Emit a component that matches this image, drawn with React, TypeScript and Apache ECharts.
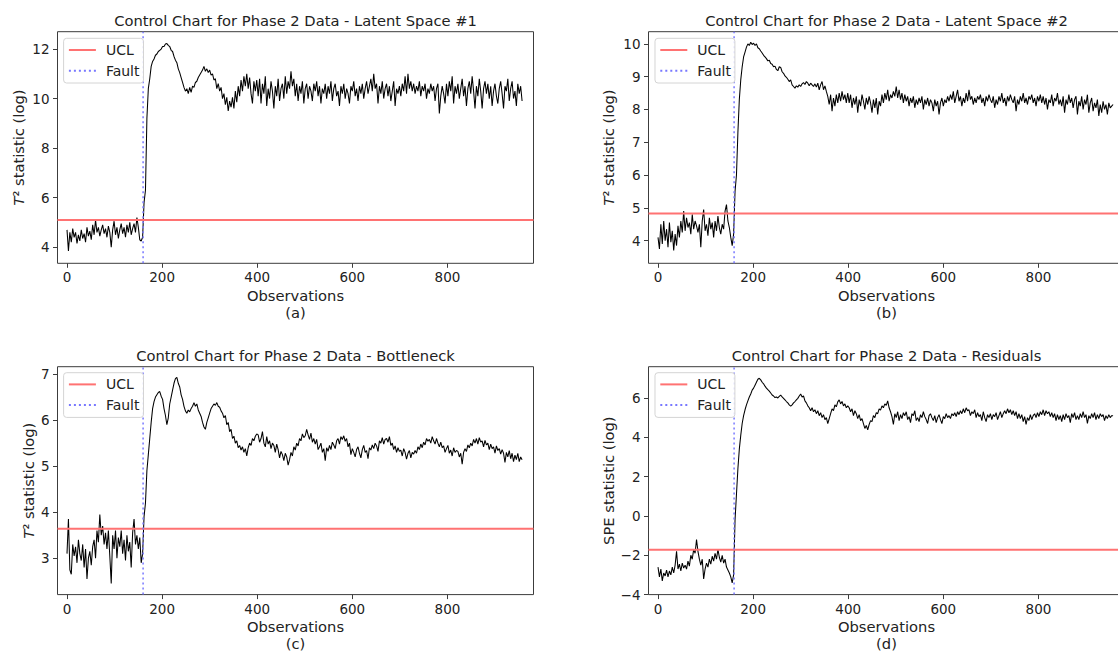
import React, { useEffect, useRef } from "react";
import * as echarts from "echarts";

const OBS_STEP = 3;
const FAULT_OBS = 160;
const X_MIN = -20;
const X_MAX = 981;
const X_TICKS = [0, 200, 400, 600, 800];

const latentSpace1 = [
  4.7, 3.85, 4.6, 4.2, 4.75, 4.4, 4.6, 4.15, 4.5, 4.25,
  4.7, 4.35, 4.55, 4.2, 4.8, 4.45, 4.65, 4.3, 4.9, 4.5,
  5.1, 4.6, 4.8, 4.45, 4.7, 4.9, 4.55, 4.75, 4.4, 4.85,
  4.6, 4.0, 4.7, 5.05, 4.5, 4.8, 4.35, 4.7, 4.95, 4.55,
  4.8, 4.4, 4.9, 4.6, 5.0, 4.5, 4.75, 4.95, 4.6, 5.2,
  4.8, 4.3, 4.25, 4.4,
  5.8, 6.3, 9.2, 10.4, 10.8, 11.3, 11.5, 11.6, 11.75, 11.8,
  11.9, 11.95, 12.0, 12.1, 12.1, 12.2, 12.22, 12.15, 12.1, 11.95,
  11.9, 11.7, 11.55, 11.45, 11.2, 11.05, 10.85, 10.65, 10.45, 10.3,
  10.4, 10.2, 10.45, 10.25, 10.5, 10.45, 10.65, 10.7, 10.85, 10.95,
  11.05, 11.15, 11.3, 11.1, 11.2, 11.05, 11.15, 10.95, 11.0, 10.75,
  10.8, 10.4, 10.6, 10.3, 10.45, 10.0, 10.2, 9.75, 10.05, 9.5,
  9.9, 9.65, 10.05, 9.6, 10.3, 9.85, 10.5, 10.1, 10.75, 10.3,
  10.9, 10.5, 11.0, 10.4, 10.85, 10.2, 9.8, 10.7, 10.3, 10.75,
  10.1, 10.8, 9.8, 10.6, 10.2, 10.9, 9.7, 10.4, 10.0, 10.7,
  10.3, 9.6, 10.5, 10.1, 10.8, 9.9, 10.4, 10.6, 10.0, 10.9,
  10.2, 10.7, 10.4, 11.1, 10.5, 10.8, 10.1, 10.6, 9.9, 10.5,
  10.2, 10.7, 9.8, 10.4, 10.6, 10.0, 10.5, 10.3, 9.9, 10.6,
  10.3, 10.7, 10.1, 10.5, 9.8, 10.4, 10.2, 10.6, 10.0, 10.5,
  10.2, 10.7, 9.9, 10.4, 10.6, 10.1, 10.3, 9.7, 10.5, 10.2,
  10.6, 10.0, 10.4, 10.2, 9.8, 10.5, 10.3, 10.7, 10.1, 10.4,
  9.9, 10.5, 10.2, 10.6, 10.0, 10.4, 10.7, 10.2, 10.5, 10.8,
  10.3, 11.0, 10.4, 10.6, 9.8, 10.5, 10.2, 10.7, 10.0, 10.4,
  10.6, 10.1, 10.5, 9.9, 10.3, 10.7, 9.7, 10.4, 10.2, 10.5,
  10.1, 10.6, 10.3, 10.9, 10.2, 11.0, 10.4, 10.7, 10.3, 10.6,
  10.2, 10.5, 10.3, 10.7, 10.1, 10.5, 10.3, 10.6, 10.0, 10.4,
  10.2, 10.6, 10.3, 10.5, 9.9, 10.4, 10.6, 9.4, 10.1, 10.5,
  10.2, 9.8, 10.6, 10.1, 10.7, 10.3, 10.9, 9.8, 10.5, 10.2,
  10.6, 10.0, 10.4, 10.8, 10.1, 10.5, 9.7, 10.4, 10.7, 10.2,
  10.9, 10.3, 9.6, 10.5, 10.1, 10.8, 10.3, 9.6, 10.4, 10.7,
  10.2, 10.6, 10.0, 10.5, 9.7, 10.3, 10.6, 10.1, 9.8, 10.4,
  10.7, 10.2, 9.6, 10.5, 10.3, 10.8, 9.9, 10.4, 10.7, 10.0,
  10.3, 9.7, 10.6, 10.2, 10.5, 9.9,
];

const latentSpace2 = [
  4.1, 3.75, 4.5, 3.9, 4.6, 4.0, 4.35, 3.8, 4.55, 3.95,
  4.3, 3.7, 4.2, 3.85, 4.45, 4.1, 4.6, 4.25, 4.9, 4.3,
  4.7, 4.4, 4.55, 4.2, 4.8, 4.35, 4.6, 4.45, 4.25, 4.5,
  3.8, 4.6, 4.95, 4.3, 4.5, 4.15, 4.7, 4.35, 4.55, 4.1,
  4.6, 4.3, 4.75, 4.4, 4.2, 4.5, 4.35, 4.9, 5.1, 4.6,
  4.4, 4.1, 3.85, 4.2,
  5.5, 6.0, 7.3, 8.3, 8.9, 9.3, 9.6, 9.75, 9.9, 10.0,
  9.95, 10.05, 9.98, 10.02, 9.95, 10.0, 9.88, 9.85, 9.78, 9.72,
  9.65, 9.6, 9.55, 9.48, 9.5, 9.4, 9.38, 9.3, 9.32, 9.22,
  9.18, 9.3, 9.28, 9.15, 9.1, 9.02, 8.98, 8.92, 8.85, 8.9,
  8.75, 8.7, 8.65, 8.72, 8.68, 8.75, 8.7, 8.78, 8.82, 8.76,
  8.85, 8.8, 8.72, 8.8, 8.75, 8.7, 8.78, 8.68, 8.8, 8.6,
  8.75, 8.85, 8.6, 8.72, 8.55, 8.4, 8.15, 8.45, 7.95, 8.35,
  8.1, 8.45, 8.2, 8.5, 8.25, 8.55, 8.3, 8.45, 8.2, 8.5,
  8.2, 8.45, 8.05, 8.35, 8.15, 8.4, 7.9, 8.3, 8.1, 8.45,
  8.25, 8.0, 8.35, 8.15, 8.4, 8.2, 7.9, 8.3, 8.05, 8.35,
  7.85, 8.25, 8.1, 8.45, 8.2, 8.5, 8.3, 8.6, 8.25, 8.45,
  8.35, 8.55, 8.4, 8.7, 8.35, 8.6, 8.3, 8.5, 8.2, 8.45,
  8.25, 8.4, 8.1, 8.35, 8.2, 8.4, 8.05, 8.3, 8.15, 8.35,
  8.2, 8.4, 8.0, 8.3, 8.15, 8.35, 8.1, 8.3, 8.2, 7.95,
  8.3, 8.1, 8.25, 7.85, 8.2, 8.35, 8.1, 8.3, 8.2, 8.4,
  8.25, 8.45, 8.3, 8.55, 8.2, 8.4, 8.6, 8.25, 8.4, 8.1,
  8.35, 8.2, 8.5, 8.25, 8.6, 8.3, 8.4, 8.15, 8.35, 8.2,
  8.4, 8.3, 8.45, 8.2, 8.35, 8.1, 8.4, 8.25, 8.45, 8.3,
  8.2, 8.4, 8.05, 8.3, 8.15, 8.4, 8.25, 8.5, 8.2, 8.35,
  8.1, 8.4, 8.25, 8.45, 8.3, 8.2, 8.4, 7.95, 8.3, 8.15,
  8.4, 8.25, 8.5, 8.2, 8.35, 8.15, 8.4, 8.3, 8.45, 8.2,
  8.35, 8.1, 8.4, 8.25, 8.45, 8.2, 8.4, 8.15, 8.35, 8.0,
  8.3, 8.2, 8.45, 8.1, 8.35, 8.25, 8.5, 8.15, 8.3, 8.1,
  8.4, 7.9, 8.3, 8.15, 8.45, 8.2, 8.35, 8.05, 8.3, 8.4,
  7.85, 8.25, 8.1, 8.4, 8.0, 8.3, 8.15, 8.45, 7.9, 8.2,
  8.35, 7.95, 8.2, 8.05, 8.3, 7.8, 8.15, 7.9, 8.25, 8.0,
  8.15, 7.85, 8.2, 8.05, 8.1, 8.15,
];

const bottleneck = [
  3.1, 3.85, 2.75, 2.65, 3.3, 3.05, 3.25, 2.9, 3.4, 3.1,
  2.95, 3.3, 2.8, 3.2, 2.55, 3.0, 3.15, 2.85, 3.25, 3.4,
  3.0, 3.6, 3.35, 3.95, 3.5, 3.7, 3.3, 3.55, 3.2, 3.6,
  3.05, 2.45, 3.5, 3.2, 3.6, 3.0, 3.45, 3.25, 3.6, 3.1,
  3.4, 2.95, 3.5, 3.15, 3.35, 2.8, 3.55, 3.85, 3.3, 3.5,
  3.2, 3.45, 2.9, 3.1,
  3.9, 4.2, 4.9, 5.25, 5.6, 5.95, 6.25, 6.4, 6.5, 6.55,
  6.6, 6.62, 6.52, 6.45, 6.25, 6.1, 5.9, 6.05, 6.35, 6.5,
  6.65, 6.8, 6.9, 6.93, 6.8, 6.72, 6.55, 6.45, 6.3, 6.2,
  6.15, 6.22, 6.18, 6.25, 6.3, 6.38, 6.3, 6.35, 6.22, 6.15,
  6.08, 5.95, 5.85, 5.8, 5.95, 6.05, 6.15, 6.25, 6.3, 6.35,
  6.32, 6.38, 6.3, 6.28, 6.2, 6.15, 6.05, 6.1, 5.9, 5.95,
  5.75, 5.8, 5.6, 5.65, 5.5, 5.55, 5.4, 5.45, 5.35, 5.42,
  5.3, 5.38, 5.22, 5.4, 5.5, 5.45, 5.6, 5.55, 5.65, 5.7,
  5.68, 5.52, 5.6, 5.75, 5.5, 5.42, 5.64, 5.48, 5.55, 5.38,
  5.5, 5.45, 5.3, 5.48, 5.36, 5.18, 5.32, 5.25, 5.12, 5.28,
  5.2, 5.02, 5.14, 5.3, 5.22, 5.42, 5.35, 5.5, 5.44, 5.6,
  5.55, 5.7, 5.62, 5.66, 5.8, 5.68, 5.58, 5.72, 5.52, 5.6,
  5.48, 5.58, 5.36, 5.42, 5.5, 5.3, 5.38, 5.12, 5.4, 5.32,
  5.45, 5.36, 5.52, 5.46, 5.38, 5.55, 5.6, 5.48, 5.64, 5.58,
  5.66, 5.54, 5.6, 5.42, 5.5, 5.25, 5.38, 5.3, 5.2, 5.36,
  5.42, 5.28, 5.18, 5.36, 5.45, 5.3, 5.34, 5.16, 5.4, 5.35,
  5.46, 5.38, 5.5, 5.44, 5.32, 5.55, 5.5, 5.62, 5.48, 5.58,
  5.6, 5.52, 5.64, 5.45, 5.5, 5.36, 5.44, 5.3, 5.4, 5.32,
  5.35, 5.22, 5.38, 5.3, 5.15, 5.28, 5.34, 5.18, 5.3, 5.26,
  5.34, 5.28, 5.42, 5.36, 5.48, 5.4, 5.52, 5.46, 5.6, 5.54,
  5.58, 5.5, 5.64, 5.55, 5.48, 5.6, 5.5, 5.42, 5.52, 5.4,
  5.44, 5.3, 5.38, 5.45, 5.28, 5.35, 5.22, 5.4, 5.3, 5.34,
  5.32, 5.2, 5.28, 5.04, 5.3, 5.38, 5.32, 5.46, 5.4, 5.5,
  5.44, 5.58, 5.5, 5.6, 5.48, 5.62, 5.52, 5.55, 5.42, 5.56,
  5.46, 5.5, 5.36, 5.48, 5.38, 5.42, 5.28, 5.44, 5.34, 5.38,
  5.26, 5.36, 5.28, 5.08, 5.3, 5.2, 5.34, 5.16, 5.28, 5.1,
  5.24, 5.14, 5.28, 5.1, 5.2, 5.14,
];

const residuals = [
  -2.6, -3.1, -2.7, -3.3, -2.9, -3.05, -2.75, -3.1, -2.8, -3.0,
  -2.6, -2.9, -2.5, -1.8, -2.7, -2.45, -2.8, -2.4, -2.65, -2.5,
  -2.7, -2.3, -2.55, -2.0, -2.2, -1.7, -1.9, -1.2, -1.8, -2.2,
  -2.5, -2.2, -3.2, -2.7, -2.4, -2.6, -2.2, -2.45, -2.05, -2.3,
  -1.9, -2.2, -1.7, -2.1, -2.35, -2.0, -2.4, -2.2, -2.6, -2.75,
  -2.9, -3.1, -3.4, -3.0,
  -0.2, 1.1, 2.4, 3.4, 4.1, 4.7, 5.1, 5.4, 5.65, 5.85,
  6.05, 6.2, 6.4, 6.5, 6.65, 6.8, 6.95, 7.0, 6.92, 6.8,
  6.72, 6.6, 6.5, 6.42, 6.35, 6.25, 6.15, 6.1, 6.02, 6.05,
  6.0, 6.08, 6.15, 6.05, 5.98, 5.9, 5.82, 5.75, 5.65, 5.58,
  5.65, 5.75, 5.82, 5.9, 5.98, 6.1, 6.2, 6.05, 6.1, 5.85,
  5.75, 5.6, 5.5, 5.35, 5.5, 5.3, 5.4, 5.2, 5.35, 5.1,
  5.25, 5.0, 5.15, 4.9, 5.0, 4.7, 4.95, 5.2, 5.45, 5.35,
  5.65, 5.55, 5.8, 5.9, 5.7, 5.82, 5.6, 5.7, 5.5, 5.6,
  5.5, 5.3, 5.45, 5.1, 5.35, 5.2, 4.95, 5.15, 4.85, 4.95,
  4.7, 4.45, 4.6, 4.38, 4.65, 4.85, 4.8, 5.1, 5.0, 5.25,
  5.2, 5.45, 5.38, 5.6, 5.5, 5.7, 5.62, 5.85, 5.5, 5.3,
  5.05, 4.65, 5.2, 5.0, 5.3, 4.85, 5.15, 4.95, 5.25, 5.1,
  5.3, 4.9, 5.05, 4.75, 5.2, 5.1, 5.35, 4.85, 5.0, 4.8,
  5.15, 5.0, 5.3, 5.05, 4.9, 4.7, 5.1, 5.2, 5.0, 4.85,
  5.1, 4.75, 5.0, 5.15, 4.9, 4.7, 5.05, 4.95, 5.2, 5.0,
  5.1, 4.95, 5.2, 5.1, 5.25, 5.05, 5.3, 5.15, 5.35, 5.2,
  5.45, 5.25, 5.5, 5.35, 5.4, 5.1, 5.3, 5.2, 5.4, 5.0,
  5.25, 5.05, 5.15, 4.85, 5.3, 5.0, 4.8, 5.15, 5.0, 5.2,
  4.9, 5.15, 5.05, 5.25, 4.9, 5.1, 5.3, 5.0, 5.2, 5.35,
  5.2, 5.45, 5.25, 5.4, 5.15, 5.35, 5.1, 5.3, 4.95, 5.2,
  4.95, 5.15, 4.8, 5.05, 4.65, 5.0, 4.85, 5.15, 4.9, 5.1,
  5.2, 5.0, 5.25, 5.05, 5.3, 5.15, 5.4, 5.1, 5.35, 5.2,
  5.3, 5.05, 5.25, 5.0, 5.2, 4.85, 5.15, 4.9, 5.1, 4.8,
  5.15, 4.9, 5.2, 5.0, 5.1, 4.75, 5.2, 5.0, 5.25, 4.9,
  5.1, 4.9, 5.2, 5.0, 5.3, 5.0, 5.15, 4.7, 5.1, 4.95,
  5.2, 5.0, 5.25, 4.9, 5.15, 4.95, 5.2, 5.05, 5.15, 4.85,
  5.1, 4.95, 5.15, 5.0, 5.1, 5.1,
];

const seriesValues = [latentSpace1, latentSpace2, bottleneck, residuals];
const titles = [
  "Control Chart for Phase 2 Data - Latent Space #1",
  "Control Chart for Phase 2 Data - Latent Space #2",
  "Control Chart for Phase 2 Data - Bottleneck",
  "Control Chart for Phase 2 Data - Residuals",
];
const yNames = [
  "{it|T}² statistic (log)",
  "{it|T}² statistic (log)",
  "{it|T}² statistic (log)",
  "SPE statistic (log)",
];
const subLabels = ["(a)", "(b)", "(c)", "(d)"];
const uclValues = [5.1, 4.83, 3.64, -1.72];
const yMins = [3.35, 3.31, 2.21, -4];
const yMaxs = [12.7, 10.37, 7.16, 7.59];
const yTicks = [
  [4, 6, 8, 10, 12],
  [4, 5, 6, 7, 8, 9, 10],
  [3, 4, 5, 6, 7],
  [-4, -2, 0, 2, 4, 6],
];

// layout (pixels)
const GRID_W = 476;
const GRID_H = 231.6;
const panels = [
  { left: 57.5, top: 31.7, titleY: 20.7, legendLeft: 63.6, legendTop: 38.3, nameGap: 32 },
  { left: 648.5, top: 31.7, titleY: 20.7, legendLeft: 655, legendTop: 38.3, nameGap: 32.5 },
  { left: 57.5, top: 366.7, titleY: 355, legendLeft: 63.6, legendTop: 372.7, nameGap: 21.6 },
  { left: 648.5, top: 366.7, titleY: 355, legendLeft: 655, legendTop: 372.7, nameGap: 32.5 },
];

const FONT = "DejaVu Sans";
const TXT = "#222";
const UCL_COLOR = "#ff7272";
const FAULT_COLOR = "#7878ff";

export default function App() {
  const ref = useRef<HTMLDivElement>(null);

  useEffect(() => {
    if (!ref.current) return;
    const chart = echarts.init(ref.current, undefined, { renderer: "svg" });

    const grids: any[] = [];
    const xAxes: any[] = [];
    const yAxes: any[] = [];
    const series: any[] = [];
    const legends: any[] = [];
    const graphics: any[] = [];

    panels.forEach((p, i) => {
      grids.push({
        left: p.left,
        top: p.top,
        width: GRID_W,
        height: GRID_H,
        show: true,
        borderColor: "#3c3c3c",
        borderWidth: 1,
        backgroundColor: "transparent",
      });
      xAxes.push({
        gridIndex: i,
        type: "value",
        min: X_MIN,
        max: X_MAX,
        name: "Observations\n" + subLabels[i],
        nameLocation: "middle",
        nameGap: 24,
        nameTextStyle: { fontSize: 14.7, color: TXT, fontFamily: FONT, lineHeight: 16.7, verticalAlign: "top" },
        axisLine: { show: false, onZero: false },
        splitLine: { show: false },
        axisTick: { show: true, length: 4.5, customValues: X_TICKS, lineStyle: { color: "#3c3c3c" } },
        axisLabel: { customValues: X_TICKS, fontSize: 13.5, color: TXT, fontFamily: FONT, margin: 7 },
      });
      yAxes.push({
        gridIndex: i,
        type: "value",
        min: yMins[i],
        max: yMaxs[i],
        name: yNames[i],
        nameLocation: "middle",
        nameRotate: 90,
        nameGap: p.nameGap,
        nameTextStyle: {
          fontSize: 14.7,
          color: TXT,
          fontFamily: FONT,
          rich: { it: { fontStyle: "italic", fontSize: 14.7, color: TXT, fontFamily: FONT } },
        },
        axisLine: { show: false, onZero: false },
        splitLine: { show: false },
        axisTick: { show: true, length: 4.5, customValues: yTicks[i], lineStyle: { color: "#3c3c3c" } },
        axisLabel: {
          customValues: yTicks[i],
          fontSize: 13.5,
          color: TXT,
          fontFamily: FONT,
          margin: 8,
          formatter: (v: number) => String(v).replace("-", "\u2212"),
        },
      });
      series.push({
        type: "line",
        xAxisIndex: i,
        yAxisIndex: i,
        data: seriesValues[i].map((v, k) => [k * OBS_STEP, v]),
        symbol: "none",
        showSymbol: false,
        lineStyle: { color: "#000", width: 1.05 },
        z: 2,
        silent: true,
      });
      series.push({
        name: "UCL",
        type: "line",
        xAxisIndex: i,
        yAxisIndex: i,
        data: [
          [X_MIN, uclValues[i]],
          [X_MAX, uclValues[i]],
        ],
        symbol: "none",
        lineStyle: { color: UCL_COLOR, width: 2 },
        itemStyle: { color: UCL_COLOR },
        z: 3,
        silent: true,
      });
      series.push({
        name: "Fault",
        type: "line",
        xAxisIndex: i,
        yAxisIndex: i,
        data: [
          [FAULT_OBS, yMins[i]],
          [FAULT_OBS, yMaxs[i]],
        ],
        symbol: "none",
        lineStyle: { color: FAULT_COLOR, width: 1.5, type: [2, 3] },
        itemStyle: { color: FAULT_COLOR },
        z: 3,
        silent: true,
      });
      legends.push({
        data: ["UCL", "Fault"],
        orient: "vertical",
        left: p.legendLeft,
        top: p.legendTop,
        itemWidth: 27,
        itemHeight: 12,
        itemGap: 6.7,
        padding: [4.7, 4, 5.3, 4.3],
        backgroundColor: "rgba(255,255,255,0.85)",
        borderColor: "#d4d4d4",
        borderWidth: 1,
        borderRadius: 3,
        selectedMode: false,
        itemStyle: { opacity: 0 },
        textStyle: { fontSize: 14, color: TXT, fontFamily: FONT, padding: [0, 0, 0, 5] },
      });
      graphics.push({
        type: "text",
        x: p.left + GRID_W / 2,
        y: p.titleY,
        silent: true,
        style: {
          text: titles[i],
          fill: TXT,
          fontSize: 14.7,
          fontFamily: FONT,
          align: "center",
          verticalAlign: "middle",
          textAlign: "center",
          textVerticalAlign: "middle",
        },
      });
    });

    chart.setOption({
      animation: false,
      backgroundColor: "#fff",
      grid: grids,
      xAxis: xAxes,
      yAxis: yAxes,
      series,
      legend: legends,
      graphic: graphics,
    });

    return () => chart.dispose();
  }, []);

  return (
    <div
      ref={ref}
      style={{ position: "fixed", left: 0, top: 0, width: 1130, height: 653, background: "#fff" }}
    />
  );
}
